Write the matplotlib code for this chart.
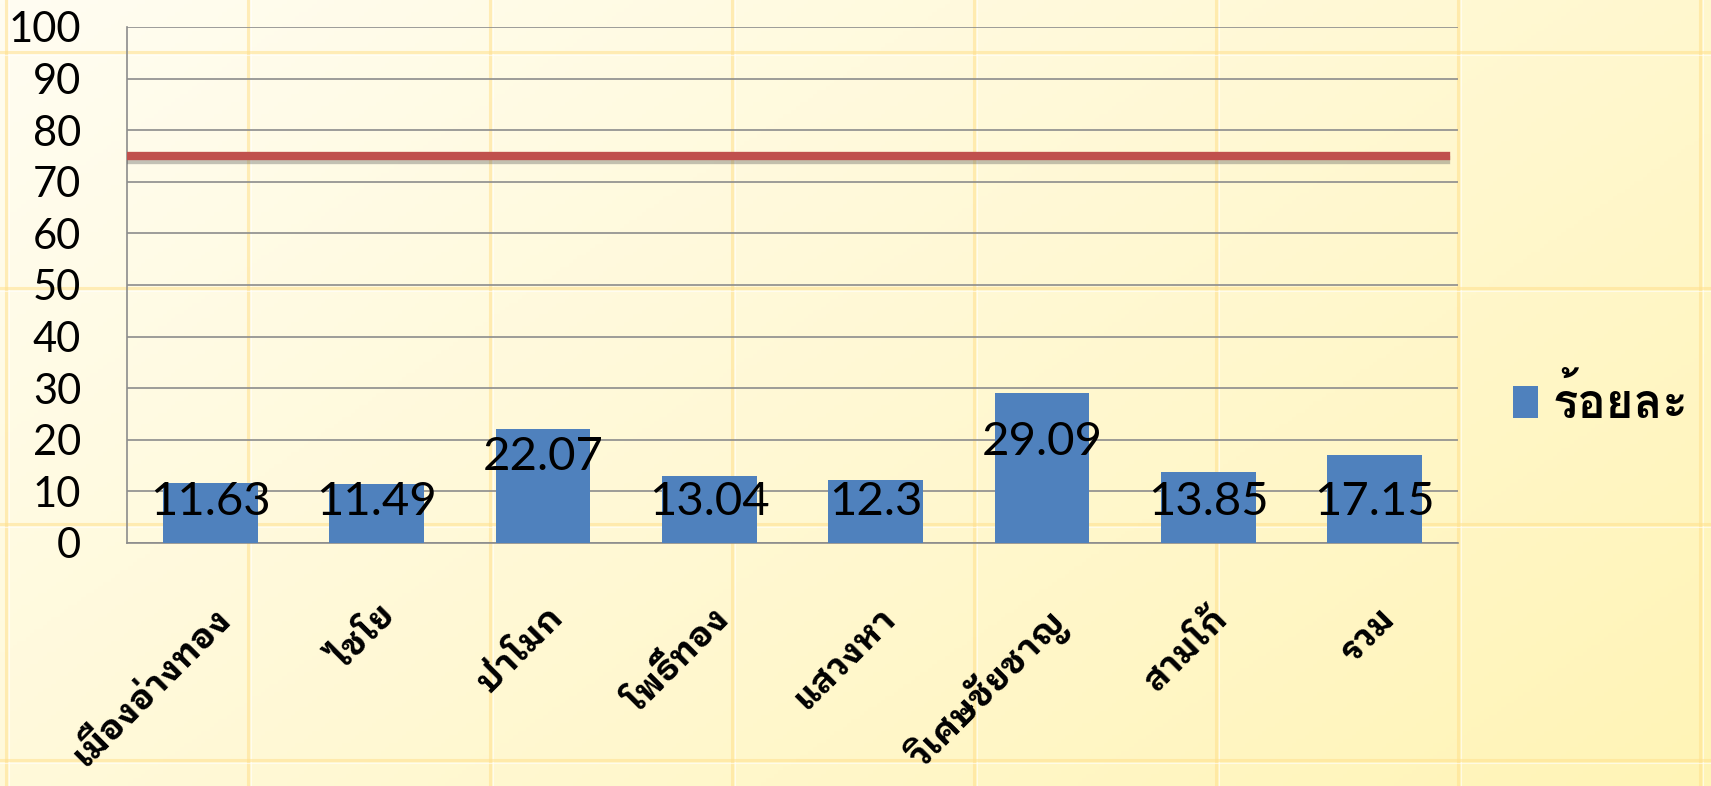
import matplotlib
matplotlib.use('Agg')
import matplotlib.pyplot as plt
from matplotlib import font_manager as fm
from matplotlib.ft2font import FT2Font
from matplotlib.patches import Patch
import matplotlib.patheffects as pe
import matplotlib.transforms as mtransforms
import numpy as np

# ---------------- data ----------------
categories = ['เมืองอ่างทอง', 'ไชโย', 'ป่าโมก', 'โพธิ์ทอง', 'แสวงหา', 'วิเศษชัยชาญ', 'สามโก้', 'รวม']
values = [11.63, 11.49, 22.07, 13.04, 12.3, 29.09, 13.85, 17.15]
value_labels = ['11.63', '11.49', '22.07', '13.04', '12.3', '29.09', '13.85', '17.15']
target = 75
series_name = 'ร้อยละ'
yticks = [0, 10, 20, 30, 40, 50, 60, 70, 80, 90, 100]

# ---------------- fonts ----------------
def thai_fonts():
    found = []
    seen = set()
    for f in fm.fontManager.ttflist:
        if f.name in seen:
            continue
        try:
            ft = FT2Font(f.fname)
            if ft.get_char_index(ord('ก')) and ft.get_char_index(ord('้')):
                found.append(f.name)
                seen.add(f.name)
        except Exception:
            pass
    return found

found = thai_fonts()
def pick(prefs):
    for p in prefs:
        if p in found:
            return p
    return found[0] if found else None

thai_label = pick(['IBM Plex Sans Thai Looped', 'Noto Sans Thai Looped', 'Loma', 'Sarabun'])
thai_legend = pick(['Loma', 'Noto Sans Thai Looped', 'IBM Plex Sans Thai Looped', 'Sarabun'])
label_family = ([thai_label] if thai_label else []) + ['DejaVu Sans']
legend_family = ([thai_legend] if thai_legend else []) + ['DejaVu Sans']
num_family = ['Lato', 'DejaVu Sans']

plt.rcParams['font.family'] = num_family

W, H = 1711, 786
fig = plt.figure(figsize=(W / 100, H / 100), dpi=100)

# ---------------- background ----------------
bg = fig.add_axes([0, 0, 1, 1], zorder=0)
gx, gy = np.meshgrid(np.linspace(0, 1, 400), np.linspace(0, 1, 200))
t = np.clip((gx * 0.6 + gy * 0.4), 0, 1)
c0 = np.array([255, 253, 242]) / 255.0
c1 = np.array([255, 244, 182]) / 255.0
img = c0[None, None, :] * (1 - t[..., None]) + c1[None, None, :] * t[..., None]
bg.imshow(img, extent=[0, 1, 0, 1], aspect='auto', origin='upper')
for px in np.arange(6, W, 242):
    bg.axvline(px / W, color=(1.0, 0.88, 0.55), lw=2.2, alpha=0.55)
    bg.axvline((px + 3) / W, color='white', lw=0.8, alpha=0.6)
for py in np.arange(52, H, 236):
    bg.axhline(1 - py / H, color=(1.0, 0.88, 0.55), lw=2.2, alpha=0.55)
    bg.axhline(1 - (py + 3) / H, color='white', lw=0.8, alpha=0.6)
bg.set_xlim(0, 1)
bg.set_ylim(0, 1)
bg.axis('off')

# ---------------- main axes ----------------
ax = fig.add_axes([127 / W, 1 - 543 / H, (1458 - 127) / W, (543 - 27) / H], zorder=2)
ax.patch.set_alpha(0)
x = np.arange(len(categories))
bars = ax.bar(x, values, width=0.57, color='#4F81BD', zorder=3, label=series_name)
ax.set_xlim(-0.5, len(categories) - 0.5)
ax.set_ylim(0, 100)
ax.set_yticks(yticks)
ax.set_yticklabels([str(v) for v in yticks], fontsize=30, family=num_family)
ax.yaxis.grid(True, color='#8C8C8C', lw=1.2, zorder=1)
ax.set_axisbelow(True)
for s in ['top', 'right']:
    ax.spines[s].set_visible(False)
ax.spines['left'].set_color('#8C8C8C')
ax.spines['left'].set_linewidth(1.2)
ax.spines['bottom'].set_color('#8C8C8C')
ax.spines['bottom'].set_linewidth(1.2)
ax.tick_params(axis='y', length=0, pad=33)
ax.tick_params(axis='x', length=0, pad=42)

ax.set_xticks(x)
ax.set_xticklabels(categories, rotation=45, ha='right', va='top', rotation_mode='anchor',
                   fontsize=25, family=label_family, fontweight='bold')
offset = mtransforms.ScaledTranslation(3 / 100, 0, fig.dpi_scale_trans)
for lab in ax.get_xticklabels():
    lab.set_transform(lab.get_transform() + offset)

# target line
ax.axhline(target, xmin=0, xmax=0.991, color='#C0504D', lw=6, zorder=4,
           path_effects=[pe.SimpleLineShadow(offset=(0, -3), shadow_color='#555555', alpha=0.35),
                         pe.Normal()])

# data labels
label_y = [8, 8, 16.7, 8, 8, 19.5, 8, 8]
for xi, ly, txt in zip(x, label_y, value_labels):
    ax.text(xi, ly, txt, ha='center', va='center', fontsize=34, family=num_family,
            color='black', zorder=5)

# legend
fig.legend(handles=[Patch(facecolor='#4F81BD', edgecolor='none')], labels=[series_name],
           loc='center left', bbox_to_anchor=(1470 / W, 1 - 402 / H), frameon=False,
           handlelength=0.55, handleheight=0.65, handletextpad=0.3,
           prop={'family': legend_family, 'size': 34, 'weight': 'bold'})

fig.savefig('out.png', dpi=100)
